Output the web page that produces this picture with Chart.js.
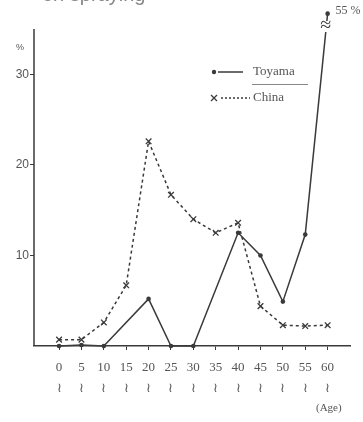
<!DOCTYPE html>
<html>
<head>
<meta charset="utf-8">
<script src="https://cdn.jsdelivr.net/npm/chart.js@4"></script>
<style>
  html, body { margin: 0; padding: 0; background: #fff; }
  #wrap { width: 363px; height: 422px; }
</style>
</head>
<body>
<div id="wrap"><canvas id="chart"></canvas></div>
<script>
const ages = [0, 5, 10, 15, 20, 25, 30, 35, 40, 45, 50, 55, 60];
const toyama = [0, 0.1, 0, null, 5.2, 0, 0, null, 12.5, 10, 4.9, 12.3, 55];
const china = [0.7, 0.7, 2.6, 6.7, 22.6, 16.7, 14, 12.5, 13.6, 4.4, 2.3, 2.2, 2.3];
const yTicks = [10, 20, 30];

// the y axis is broken above this value
const breakAt = 35;
const brokenShownAt = breakAt + 1.7;

const ink = '#3a3a3a';
const textColor = '#555';
const serif = "'Liberation Serif', 'DejaVu Serif', serif";

function toPoints(values) {
    return ages.map((a, i) => ({
        x: a,
        y: values[i] === null ? null : Math.min(values[i], brokenShownAt)
    }));
}

const extras = {
    id: 'extras',
    afterDatasetsDraw(chart) {
        const ctx = chart.ctx;
        const x = chart.scales.x;
        const y = chart.scales.y;
        ctx.save();

        // y axis line, only up to the break
        ctx.strokeStyle = ink;
        ctx.lineWidth = 1.5;
        ctx.beginPath();
        ctx.moveTo(x.left, y.getPixelForValue(0));
        ctx.lineTo(x.left, y.getPixelForValue(breakAt));
        ctx.stroke();

        // broken axis mark on the 60 point
        const bx = x.getPixelForValue(60) - 2;
        const by = y.getPixelForValue(breakAt) - 2;
        ctx.fillStyle = '#fff';
        ctx.fillRect(bx - 8, by - 6, 16, 11);
        ctx.fillStyle = ink;
        ctx.font = "20px " + serif;
        ctx.textAlign = 'center';
        ctx.textBaseline = 'middle';
        ctx.fillText('\u2248', bx, by - 1);

        const big = toyama[toyama.length - 1];
        ctx.fillStyle = textColor;
        ctx.font = "12px " + serif;
        ctx.textAlign = 'left';
        ctx.fillText(big + ' %', x.getPixelForValue(60) + 8, y.getPixelForValue(brokenShownAt) - 3);

        // % unit
        ctx.font = "9px 'Liberation Sans', sans-serif";
        ctx.textAlign = 'center';
        ctx.fillText('%', 20, 48);

        // legend
        ctx.strokeStyle = ink;
        ctx.fillStyle = ink;
        ctx.lineWidth = 1.5;
        ctx.beginPath();
        ctx.arc(214, 72, 2.2, 0, Math.PI * 2);
        ctx.fill();
        ctx.beginPath();
        ctx.moveTo(218, 72);
        ctx.lineTo(243, 72);
        ctx.stroke();

        ctx.lineWidth = 1.3;
        ctx.beginPath();
        ctx.moveTo(211, 95); ctx.lineTo(217, 101);
        ctx.moveTo(217, 95); ctx.lineTo(211, 101);
        ctx.stroke();
        ctx.setLineDash([2, 2]);
        ctx.beginPath();
        ctx.moveTo(221, 98);
        ctx.lineTo(250, 98);
        ctx.stroke();
        ctx.setLineDash([]);

        ctx.lineWidth = 1;
        ctx.strokeStyle = '#888';
        ctx.beginPath();
        ctx.moveTo(252, 84.5);
        ctx.lineTo(308, 84.5);
        ctx.stroke();

        ctx.fillStyle = textColor;
        ctx.font = "13px " + serif;
        ctx.textAlign = 'left';
        ctx.fillText('Toyama', 253, 72);
        ctx.fillText('China', 253, 98);

        ctx.font = "11px " + serif;
        ctx.fillText('(Age)', 316, 408);

        // caption cut off at the top of the picture
        ctx.fillStyle = '#888';
        ctx.textBaseline = 'alphabetic';
        ctx.font = "20px 'Liberation Sans', sans-serif";
        ctx.fillText('on spraying', 42, 1);
        ctx.restore();
    }
};

new Chart(document.getElementById('chart'), {
    type: 'line',
    data: {
        datasets: [{
            label: 'Toyama',
            data: toPoints(toyama),
            borderColor: ink,
            backgroundColor: ink,
            borderWidth: 1.5,
            pointStyle: 'circle',
            pointRadius: 2.3,
            pointBorderWidth: 0,
            spanGaps: true,
            tension: 0,
            clip: false
        }, {
            label: 'China',
            data: toPoints(china),
            borderColor: ink,
            backgroundColor: ink,
            borderWidth: 1.5,
            borderDash: [3, 3],
            pointStyle: 'crossRot',
            pointRadius: 4,
            pointBorderWidth: 1.3,
            tension: 0,
            clip: false
        }]
    },
    options: {
        responsive: true,
        maintainAspectRatio: false,
        animation: false,
        layout: { padding: { top: 6, right: 13, left: 0, bottom: 0 } },
        plugins: { legend: { display: false }, tooltip: { enabled: false } },
        scales: {
            x: {
                type: 'linear',
                min: -5.6,
                max: 65,
                afterBuildTicks: scale => { scale.ticks = ages.map(v => ({ value: v })); },
                afterFit: scale => { scale.height = 76; },
                border: { display: true, color: ink, width: 1.5 },
                grid: { drawOnChartArea: false, drawTicks: true, tickLength: 4, color: ink },
                ticks: {
                    color: textColor,
                    font: { family: serif, size: 13, lineHeight: 1.55 },
                    padding: 8,
                    maxRotation: 0,
                    autoSkip: false,
                    callback: v => [String(v), '\u2240']
                }
            },
            y: {
                min: 0,
                max: 37.3,
                afterBuildTicks: scale => { scale.ticks = yTicks.map(v => ({ value: v })); },
                afterFit: scale => { scale.width = 34; },
                border: { display: false },
                grid: { drawOnChartArea: false, drawTicks: true, tickLength: 4, color: ink },
                ticks: {
                    color: textColor,
                    font: { family: "'Liberation Sans', sans-serif", size: 12 },
                    padding: 1
                }
            }
        }
    },
    plugins: [extras]
});
</script>
</body>
</html>
